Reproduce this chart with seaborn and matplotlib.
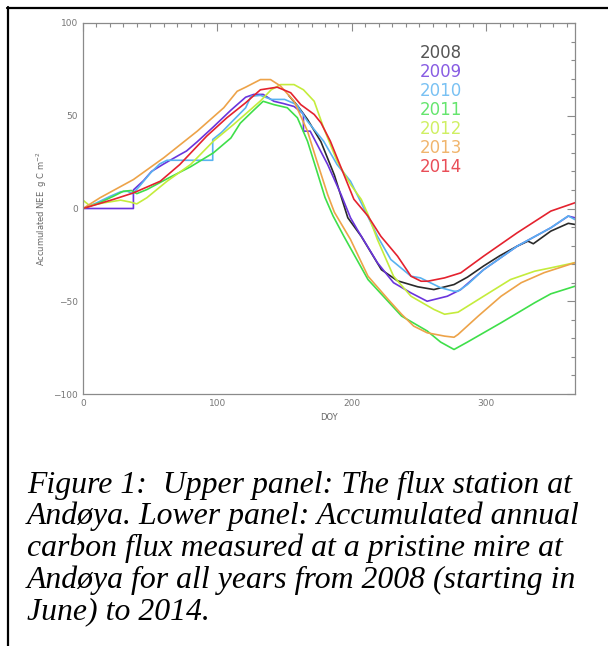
import numpy as np
import pandas as pd
import matplotlib
matplotlib.use('Agg')
import matplotlib.pyplot as plt
from matplotlib.ticker import MultipleLocator
import seaborn as sns

# accumulated NEE (DOY, g C m-2)
years = ['2008', '2009', '2010', '2011', '2012', '2013', '2014']
colors = ['#2a2a2a', '#6a34dc', '#58b2f0', '#3fdf4a', '#c4ec3c', '#eda349', '#e4222e']

doy_2008 = [153, 160, 167, 177, 187, 197, 207, 222, 234, 249, 261, 276, 286, 298, 310, 323, 331, 335, 348, 361, 366]
nee_2008 = [61, 55, 48, 36, 18, -5, -15, -33, -39, -42.2, -43.7, -41, -37, -31, -25.5, -20.3, -17.6, -19, -12.2, -8, -8.6]

doy_2009 = [0, 37.5, 37.5, 45, 51, 60, 72, 77, 85, 97, 110, 121, 127, 134, 142, 149, 157, 163, 164, 164, 169,
            182, 192, 199, 204, 219, 231, 244, 256, 271, 281, 298, 323, 348, 361, 366]
nee_2009 = [0, 0, 10, 15, 20, 24, 29, 31, 36, 44, 53, 60, 61.5, 61.5, 57.8, 56.6, 55, 51.6, 51, 41.7, 41.7,
            23.7, 7.5, -5, -11.3, -29.2, -40, -45.5, -50, -47.3, -43.7, -33, -20.3, -10.4, -4.1, -5]

doy_2010 = [0, 10, 20, 28, 33, 37, 42, 50, 57, 62.5, 96.5, 96.5, 103, 110, 121, 125, 132, 140, 150, 159, 167,
            179, 189, 199, 207, 219, 229, 244, 251, 266, 276, 279, 286, 298, 323, 348, 361, 366]
nee_2010 = [0, 3, 6.5, 9, 9.3, 8, 12, 19, 24, 26, 26, 37.2, 41, 46.2, 54.3, 60.5, 61, 58.8, 58.8, 56, 47,
            36.3, 23.7, 14.7, 3, -14.9, -27.5, -36.5, -37.4, -42.7, -44.6, -44.6, -41, -33, -20.3, -10.4, -4, -6]

doy_2011 = [0, 12, 22.6, 30, 36, 40, 47.5, 62.5, 80, 97, 110, 117, 127, 134, 142, 152, 159.5, 167, 174, 180, 186,
            194, 212, 237, 256, 266, 276, 286, 311, 336, 348, 366]
nee_2011 = [0, 3, 6.6, 9.3, 9.7, 8, 10.2, 16, 22.5, 30, 38, 46, 53, 57.8, 56, 54.3, 48.9, 36.3, 20.1, 6, -4,
            -14.9, -38.3, -58, -66, -72, -76, -72, -61.6, -50.8, -46, -41.9]

doy_2012 = [0, 5, 15, 28, 35, 40, 47.5, 62.5, 80, 97, 112, 121, 132, 140, 147, 157, 164, 172, 179, 189, 199, 207,
            212, 219, 231, 244, 261, 269, 279, 298, 318, 336, 348, 366]
nee_2012 = [4.5, 1.5, 3, 4.5, 3.5, 2.5, 5.8, 14.7, 23.7, 36.3, 45.3, 51, 58, 64, 66.8, 66.8, 64, 57.8, 43.5, 25.5, 13, 4.9,
            -3.2, -16.7, -36.5, -47.3, -54.4, -57, -55.9, -47.3, -38.3, -33.8, -32, -29.2]

doy_2013 = [0, 12.7, 37.5, 60, 85, 104.7, 114.7, 121, 132, 139.5, 147, 157, 167, 174, 182, 187, 199, 212, 227, 237,
            246, 256, 269, 276, 279, 294, 311, 326, 343, 366]
nee_2013 = [0, 5.8, 15.6, 27.3, 41.7, 54.3, 63.2, 65.4, 69.5, 69.5, 66, 57.8, 41.7, 25.5, 7.5, -2, -16.7, -36.5, -49, -57,
            -63.4, -67, -68.8, -69.4, -67.9, -58, -47.3, -40, -34.6, -29.2]

doy_2014 = [0, 22.6, 37.5, 57.5, 72, 92, 107, 121, 132, 144.5, 154.5, 162, 172, 177, 184, 192, 201.5, 212, 221.6, 234,
            244, 251.5, 256.5, 269, 281, 298, 323, 348, 366]
nee_2014 = [0, 4.9, 8.4, 14.7, 23.7, 39, 48.9, 57, 64, 65.4, 62.4, 56, 50.7, 46.2, 36.3, 22, 5, -4.1, -15, -25.7,
            -36.5, -39.2, -39.2, -37.4, -34.7, -25.7, -13.1, -1.4, 3.1]

all_doy = [doy_2008, doy_2009, doy_2010, doy_2011, doy_2012, doy_2013, doy_2014]
all_nee = [nee_2008, nee_2009, nee_2010, nee_2011, nee_2012, nee_2013, nee_2014]

frames = []
for yr, d, v in zip(years, all_doy, all_nee):
    frames.append(pd.DataFrame({'DOY': d, 'NEE': v, 'year': yr}))
df = pd.concat(frames, ignore_index=True)

sns.set_style('white')
plt.rcParams['font.family'] = ['DejaVu Sans']

fig = plt.figure(figsize=(6.08, 6.46), dpi=100)
ax = fig.add_axes([83 / 608, 1 - 394 / 646, 492 / 608, 371 / 646])

sns.lineplot(data=df, x='DOY', y='NEE', hue='year', palette=dict(zip(years, colors)),
             estimator=None, sort=False, units='year', linewidth=1.2, legend=False, ax=ax)

ax.set_xlim(0, 366)
ax.set_ylim(-100, 100)
ax.xaxis.set_major_locator(MultipleLocator(100))
ax.xaxis.set_minor_locator(MultipleLocator(10))
ax.yaxis.set_major_locator(MultipleLocator(50))
ax.yaxis.set_minor_locator(MultipleLocator(10))
grey = '#8a8a8a'
ax.tick_params(which='both', direction='in', top=True, right=True, colors=grey,
               labelsize=6.5, labelcolor='#777777', width=0.8)
ax.tick_params(which='major', length=6)
ax.tick_params(which='minor', length=3)
for s in ax.spines.values():
    s.set_color(grey)
    s.set_linewidth(0.9)
ax.set_xlabel('DOY', fontsize=6, color='#666666', labelpad=4)
ax.set_ylabel('Accumulated NEE  g C m$^{-2}$', fontsize=6, color='#666666', labelpad=3)

for i, (yr, c) in enumerate(zip(years, colors)):
    ax.text(0.685, 0.92 - i * 0.0512, yr, transform=ax.transAxes, color=c, alpha=0.8,
            fontsize=12, va='center', ha='left')

# caption under the chart
caption = ['Figure 1:  Upper panel: The flux station at',
           'Andøya. Lower panel: Accumulated annual',
           'carbon flux measured at a pristine mire at',
           'Andøya for all years from 2008 (starting in',
           'June) to 2014.']
for i, line in enumerate(caption):
    fig.text(27 / 608, 1 - (485 + i * 31.7) / 646, line, family='Liberation Serif', style='italic',
             fontsize=22.9, va='center', ha='left', color='black')

# page frame lines
fig.add_artist(plt.Line2D([7 / 608, 1], [1 - 7.5 / 646] * 2, color='black', lw=1.6))
fig.add_artist(plt.Line2D([7.5 / 608] * 2, [0, 1 - 7 / 646], color='black', lw=1.6))

fig.savefig('out.png', dpi=100)
